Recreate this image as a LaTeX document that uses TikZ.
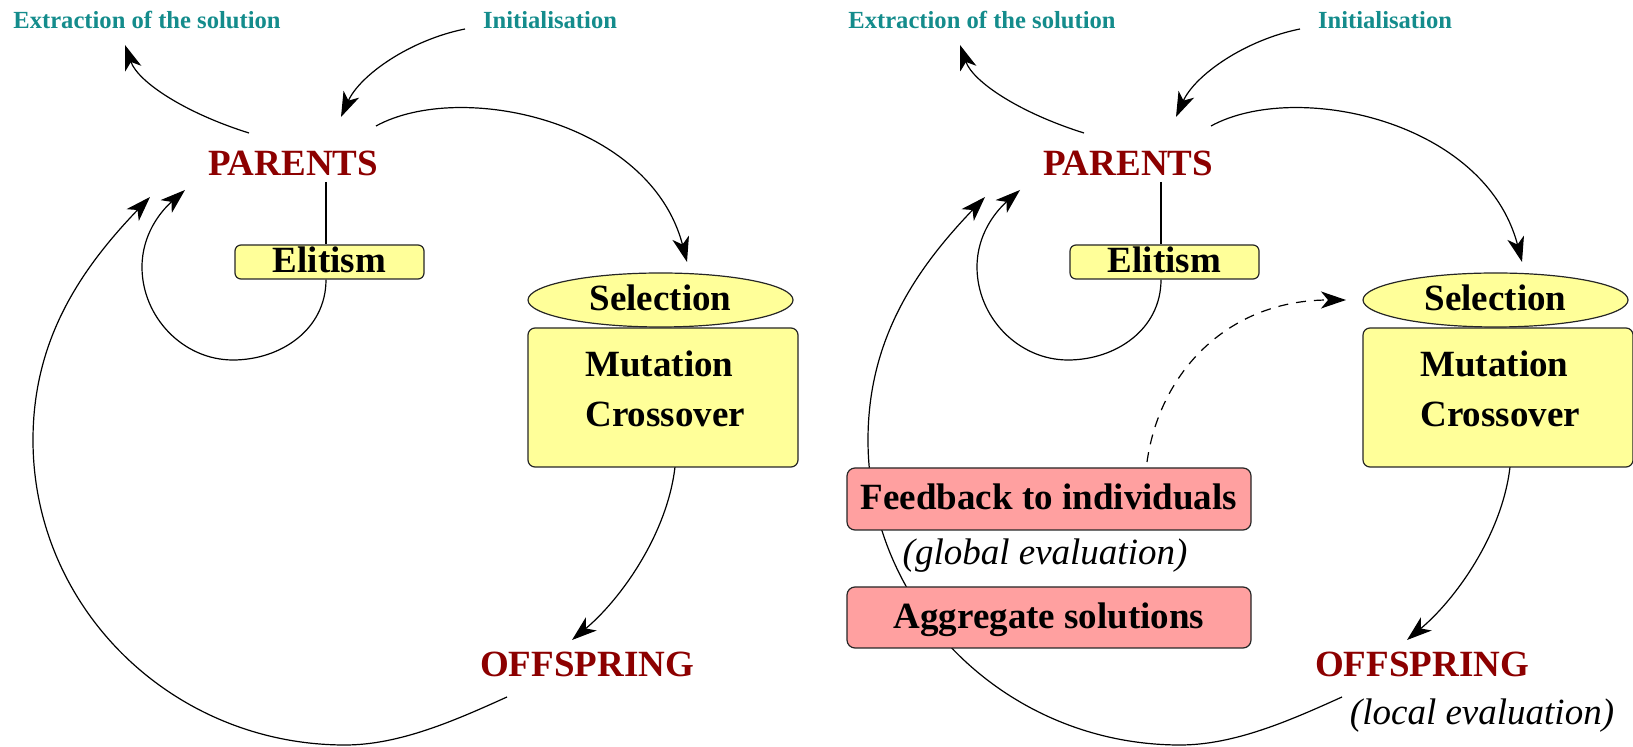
\documentclass[tikz,border=0pt]{standalone}
\usepackage{fontspec}
\setmainfont{Liberation Serif}
\usetikzlibrary{arrows.meta,shapes.geometric}
\definecolor{ttlcol}{RGB}{20,140,140}
\definecolor{lblred}{RGB}{140,0,0}
\definecolor{yelfill}{RGB}{255,255,153}
\definecolor{pinkfill}{RGB}{255,160,160}
\pgfdeclarelayer{bg}
\pgfsetlayers{bg,main}
\tikzset{
 ttl/.style={font=\fontsize{12.3pt}{15pt}\selectfont\bfseries, text=ttlcol, inner sep=0pt, anchor=base},
 big/.style={font=\fontsize{18.5pt}{22pt}\selectfont\bfseries, inner sep=0pt},
 redlbl/.style={big, text=lblred, anchor=base},
 note/.style={font=\fontsize{18.5pt}{22pt}\selectfont\itshape, inner sep=0pt, anchor=base},
 ybox/.style={big, draw=black!85, line width=0.6pt, fill=yelfill, text height=13pt, text depth=2pt},
 rbox/.style={big, draw=black!85, line width=0.6pt, fill=pinkfill, rounded corners=4pt, text height=13pt, text depth=2pt},
 conn/.style={line width=0.6pt},
 arr/.style={conn, -{Stealth[length=12.5pt,width=8.5pt,inset=3.5pt]}},
}
\newcommand\drawpanel[2]{%
\begin{scope}[shift={(#2,0)}]
 \node[ttl] (ext#1) at (147,29) {Extraction of the solution};
 \node[ttl] (ini#1) at (550,29) {Initialisation};
 \node[redlbl] (par#1) at (293,176) {PARENTS};
 \node[redlbl] (off#1) at (587,677) {OFFSPRING};
 \node[ybox, rounded corners=3pt, minimum width=94.5pt, minimum height=17pt] (eli#1) at (329.5,262) {Elitism};
 \node[ybox, ellipse, minimum width=132.5pt, minimum height=27pt] (sel#1) at (660.5,300) {Selection};
 \node[ybox, rounded corners=3.5pt, minimum width=135pt, minimum height=69.5pt] (mut#1) at (663,397.5) {};
 \node[big, anchor=base west] (mtx#1) at (585,377) {Mutation};
 \node[big, anchor=base west] (ctx#1) at (585,427) {Crossover};
 \coordinate (pex#1) at (249,133);
 \coordinate (tex#1) at (125,45);
 \coordinate (iin#1) at (465,29);
 \coordinate (tin#1) at (341,117);
 \coordinate (pse#1) at (376,126);
 \coordinate (tse#1) at (687,262);
 \coordinate (pel#1) at (326,182);
 \coordinate (tlp#1) at (185,190);
 \coordinate (moff#1) at (675,467);
 \coordinate (toff#1) at (572,640);
 \coordinate (offs#1) at (507,697);
 \coordinate (tbig#1) at (150,197);
 \begin{pgfonlayer}{bg}
  \draw[arr] (pex#1) .. controls (185,113) and (138,82) .. (tex#1);
  \draw[arr] (iin#1) .. controls (410,40) and (360,75) .. (tin#1);
  \draw[arr] (pse#1) .. controls (460,80) and (650,120) .. (tse#1);
  \draw[conn] (pel#1) -- (pel#1 |- eli#1.north);
  \draw[arr] (pel#1 |- eli#1.south) .. controls (326,330) and (280,360) .. (233,360)
     .. controls (183,360) and (142,317) .. (142,267)
     .. controls (142,235) and (160,212) .. (tlp#1);
  \draw[arr] (moff#1) .. controls (667,535) and (620,600) .. (toff#1);
  \draw[arr] (offs#1) .. controls (456,720) and (400,745) .. (345,745)
     .. controls (173,745) and (33,609) .. (33,440)
     .. controls (33,340) and (80,270) .. (tbig#1);
 \end{pgfonlayer}
\end{scope}}
\begin{document}
\begin{tikzpicture}[x=0.5pt, y=-0.5pt]
 \useasboundingbox (0,0) rectangle (1633,747);
 \drawpanel{a}{0}
 \drawpanel{b}{835}
 \node[rbox, minimum width=202pt, minimum height=31pt] (fb) at (1049,499) {Feedback to individuals};
 \node[note] (glob) at (1045,565) {(global evaluation)};
 \node[rbox, minimum width=202pt, minimum height=30.5pt] (agg) at (1049,617.5) {Aggregate solutions};
 \node[note] (loc) at (1482,725) {(local evaluation)};
 \coordinate (dsh) at (1147,462);
 \coordinate (dtip) at (1346,300);
 \draw[arr, dash pattern=on 5pt off 4pt] (dsh) .. controls (1160,370) and (1230,300) .. (dtip);
\end{tikzpicture}
\end{document}
